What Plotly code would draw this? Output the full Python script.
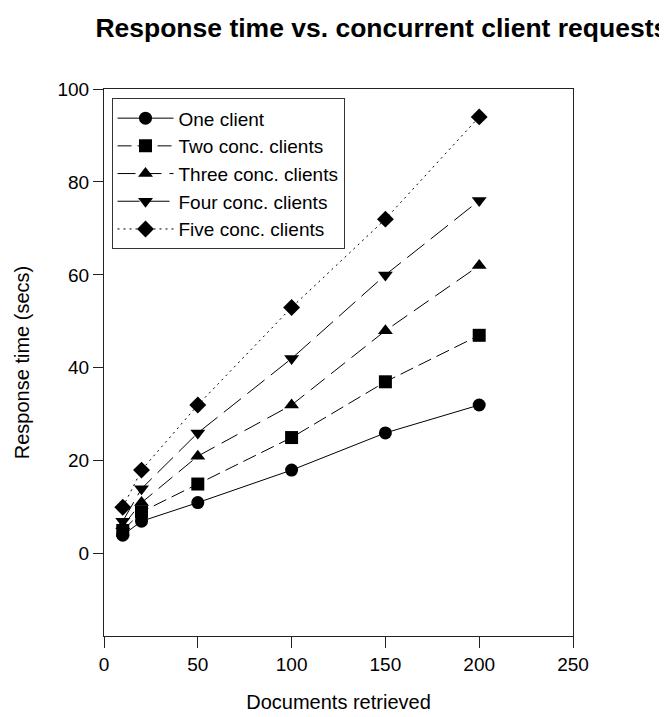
import plotly.graph_objects as go

docs = [10, 20, 50, 100, 150, 200]
one_client = [4, 7, 11, 18, 26, 32]
two_clients = [5, 9, 15, 25, 37, 47]
three_clients = [6, 11, 21, 32, 48, 62]
four_clients = [7, 14, 26, 42, 60, 76]
five_clients = [10, 18, 32, 53, 72, 94]

names = ["One client", "Two conc. clients", "Three conc. clients",
         "Four conc. clients", "Five conc. clients"]
series = [one_client, two_clients, three_clients, four_clients, five_clients]
symbols = ["circle", "square", "triangle-up", "triangle-down", "diamond"]
dashes = ["solid", "14px,6px", "18px,8px", "22px,8px", "2px,4px"]

fig = go.Figure()
for n, s, sym, d in zip(names, series, symbols, dashes):
    fig.add_trace(go.Scatter(
        x=docs, y=s, name=n, mode="lines+markers",
        line=dict(color="black", width=1, dash=d),
        marker=dict(symbol=sym, size=13, color="black"),
    ))

fig.update_layout(
    width=667, height=717,
    margin=dict(l=96, r=102, t=81, b=89),
    paper_bgcolor="white", plot_bgcolor="white",
    font=dict(family="Arial", size=19, color="black"),
    title=dict(text="<b>Response time vs. concurrent client requests</b>",
               x=0.131, xanchor="left", y=0.973, yanchor="middle",
               font=dict(family="Arial", size=26.5)),
    showlegend=True,
    legend=dict(x=0.016, y=0.983, xanchor="left", yanchor="top",
                bordercolor="#333", borderwidth=1, bgcolor="white",
                itemwidth=56,
                font=dict(family="Arial", size=19), tracegroupgap=0),
    xaxis=dict(range=[0, 250], tickvals=[0, 50, 100, 150, 200, 250],
               showgrid=False, zeroline=False, showline=True, mirror=True,
               linecolor="#222", linewidth=1, ticks="outside", ticklen=11,
               tickcolor="#222", tickfont=dict(size=19),
               title=dict(text="Documents retrieved", standoff=21,
                          font=dict(size=20))),
    yaxis=dict(range=[-17.7, 100], tickvals=[0, 20, 40, 60, 80, 100],
               showgrid=False, zeroline=False, showline=True, mirror=True,
               linecolor="#222", linewidth=1, ticks="outside", ticklen=10,
               tickcolor="#222", tickfont=dict(size=19),
               title=dict(text="Response time (secs)", standoff=22,
                          font=dict(size=20))),
)

fig.write_html("out.html")
